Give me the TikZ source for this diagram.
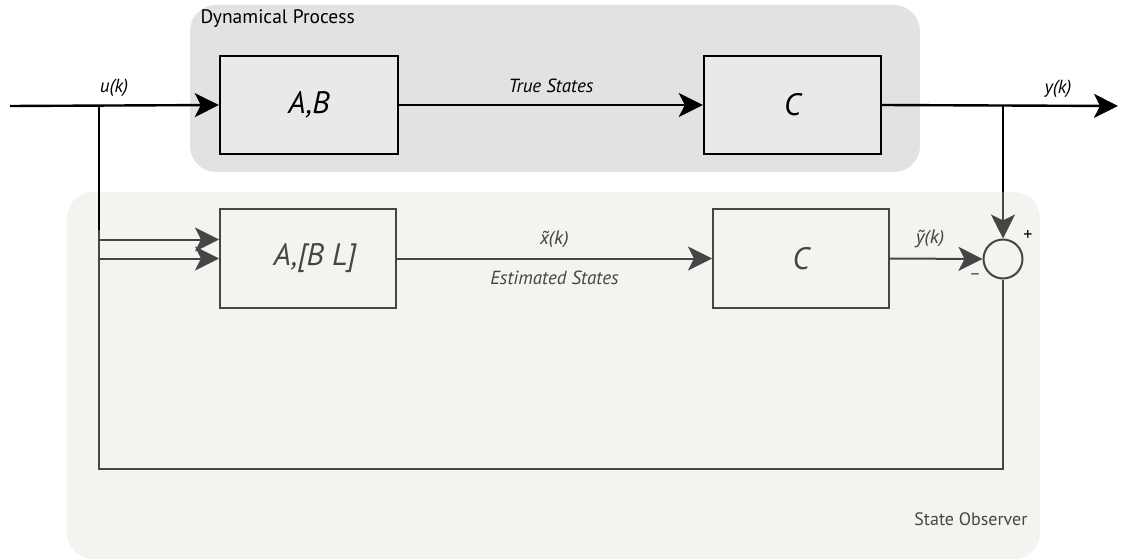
\documentclass[tikz,border=0pt]{standalone}
\usepackage{fontspec}
\setmainfont{PT Sans}
\newfontfamily\accentfont{Noto Sans}
\usetikzlibrary{arrows.meta,positioning}
\definecolor{procfill}{HTML}{E2E2E2}
\definecolor{procbox}{HTML}{E9E9E9}
\definecolor{obsfill}{HTML}{F5F3EF}
\definecolor{obsline}{HTML}{454545}
\tikzset{
  panel/.style={rounded corners=26pt, draw=none},
  procblock/.style={draw=black, line width=2.4pt, fill=procbox, minimum width=178pt, minimum height=98pt, font=\itshape\fontsize{31}{31}\selectfont, inner sep=0pt},
  obsblock/.style={draw=obsline, line width=2pt, fill=obsfill, minimum width=176pt, minimum height=99pt, font=\itshape\fontsize{31}{31}\selectfont, text=obsline, inner sep=0pt},
  sig/.style={line width=2.4pt, draw=black},
  obssig/.style={line width=2pt, draw=obsline},
  tip/.style={-{Stealth[length=24pt,width=24pt,inset=6pt]}},
  lbl/.style={font=\itshape\fontsize{19}{19}\selectfont},
  acclbl/.style={font=\accentfont\itshape\fontsize{18}{18}\selectfont},
}
\begin{document}
\begin{tikzpicture}[x=1pt,y=-1pt]
\useasboundingbox (0,0) rectangle (1121,559);
% background panels
\fill[panel, fill=procfill] (190,5) rectangle (920,172);
\fill[panel, fill=obsfill] (67,192) rectangle (1040,559);
\node[anchor=west, font=\fontsize{19.5}{19.5}\selectfont] (dyn) at (197,19) {Dynamical Process};
\node[anchor=east, font=\fontsize{18}{18}\selectfont, text=obsline] (obs) at (1031,519) {State Observer};

% process blocks
\node[procblock] (ab) at (309,105) {A,B};
\node[procblock, minimum width=177pt] (ctop) at (792.5,105) {C\hspace{6pt}};

% observer blocks
\node[obsblock] (abl) at (308,258.5) {\hspace{14pt}A,[B L]};
\node[obsblock] (cbot) at (801,258.5) {C\hspace{6pt}};
\node[circle, draw=obsline, line width=2pt, fill=obsfill, minimum size=39pt, inner sep=0pt] (sum) at (1003,259) {};
\node[font=\fontsize{18}{18}\selectfont] (plus) at (1028,236) {+};
\node[font=\fontsize{18}{18}\selectfont, text=obsline] (minus) at (975,277) {\textendash};

% signal coordinates
\coordinate (uin) at (10,106);
\coordinate (ubr) at (99,106);
\coordinate (yout) at (1118,106);
\coordinate (ybr) at (1003,106);
\coordinate (fbr) at (1003,469);
\coordinate (fbl) at (99,469);

% process path
\draw[sig, tip] (uin) -- (ab.west);
\draw[sig, tip] (ab.east) -- (ctop.west) node[midway, above=8pt, lbl, text=black] {True States};
\draw[sig, tip] (ctop.east) -- (yout);
\node[lbl] (ulbl) at (114,88) {u(k)};
\node[lbl] (ylbl) at (1058,89) {y(k)};

% observer path
\draw[sig] (ubr) -- (99,230);
\draw[obssig, tip] (99,230) |- (abl.west);
\draw[obssig, tip] (abl.east) -- (cbot.west)
  node[midway, above=7pt, acclbl, text=obsline] {x̃(k)}
  node[midway, below=8pt, lbl, text=obsline] {Estimated States};
\draw[obssig, tip] (cbot.east) -- (sum.west) node[midway, above=7pt, xshift=-6pt, acclbl, text=obsline] {ỹ(k)};
\draw[sig] (ybr) -- (1003,192);
\draw[obssig, tip] (1003,192) -- (sum.north);
\draw[obssig, tip] (sum.south) -- (fbr) -| (fbl) |- ([yshift=19pt]abl.west);
\end{tikzpicture}
\end{document}
